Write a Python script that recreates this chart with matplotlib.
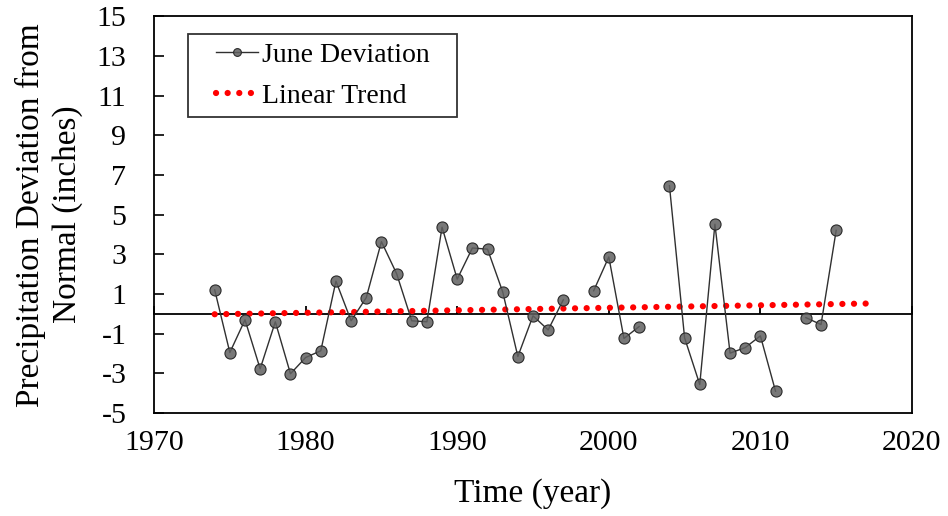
import numpy as np
import matplotlib.pyplot as plt
from matplotlib.legend_handler import HandlerLine2D

# June precipitation deviation (inches); NaN = missing year
years = [1974, 1975, 1976, 1977, 1978, 1979, 1980, 1981, 1982, 1983,
         1984, 1985, 1986, 1987, 1988, 1989, 1990, 1991, 1992, 1993,
         1994, 1995, 1996, 1997, 1998, 1999, 2000, 2001, 2002, 2003,
         2004, 2005, 2006, 2007, 2008, 2009, 2010, 2011, 2012, 2013,
         2014, 2015]
deviation = [1.21, -1.95, -0.30, -2.77, -0.40, -3.02, -2.20, -1.86, 1.65, -0.35,
             0.82, 3.64, 2.03, -0.35, -0.40, 4.37, 1.75, 3.32, 3.26, 1.11,
             -2.15, -0.10, -0.81, 0.71, np.nan, 1.16, 2.87, -1.24, -0.64, np.nan,
             6.46, -1.21, -3.56, 4.52, -1.98, -1.70, -1.11, -3.90, np.nan, -0.19,
             -0.54, 4.21]

# linear trend end points
trend_years = [1974, 2017]
trend_values = [-0.02, 0.52]

x_ticks = [1970, 1980, 1990, 2000, 2010, 2020]
y_ticks = [-5, -3, -1, 1, 3, 5, 7, 9, 11, 13, 15]

plt.rcParams['font.family'] = ['Liberation Serif', 'DejaVu Serif']
plt.rcParams['axes.unicode_minus'] = False

fig = plt.figure(figsize=(9.48, 5.16), dpi=100)
ax = fig.add_axes([0.1625, 0.1995, 0.7995, 0.769])

ax.plot(years, deviation, color='#303030', linewidth=1.0,
        marker='o', markersize=8, markerfacecolor=(0.38, 0.38, 0.38, 0.85),
        markeredgecolor='#2a2a2a', markeredgewidth=0.8, label='June Deviation', zorder=3)
ax.plot(trend_years, trend_values, color='#ff0000', linewidth=4.5,
        linestyle=(0, (0.01, 1.85)), dash_capstyle='round', label='Linear Trend', zorder=2)

ax.set_xlim(1970, 2020)
ax.set_ylim(-5, 15)
ax.set_xticks(x_ticks)
ax.set_yticks(y_ticks)
ax.tick_params(axis='x', length=0, labelsize=21.5, pad=12)
ax.tick_params(axis='y', direction='in', length=7, width=1.2, labelsize=21.5, pad=20)
for s in ax.spines.values():
    s.set_linewidth(1.3)

# horizontal axis crossing at zero, ticks pointing up
zero_axis = ax.secondary_xaxis(0.25)
zero_axis.set_xticks(x_ticks)
zero_axis.tick_params(direction='in', length=6, width=1.3, labelbottom=False)
zero_axis.spines['bottom'].set_linewidth(1.3)

ax.set_xlabel('Time (year)', fontsize=24, labelpad=16)
ax.set_ylabel('Precipitation Deviation from\nNormal (inches)', fontsize=24,
              labelpad=10, linespacing=1.25)

handler = HandlerLine2D(xpad=0.72)
leg = ax.legend(loc='upper left', bbox_to_anchor=(0.0449, 0.9547, 0.355, 0.0),
                mode='expand', fontsize=20, frameon=True, fancybox=False,
                edgecolor='black', handlelength=2.2, handletextpad=0.15,
                borderpad=0.3, labelspacing=0.55, borderaxespad=0, markerscale=0.7,
                handler_map={ln: handler for ln in ax.get_lines()})
leg.get_frame().set_linewidth(1.3)

fig.savefig('out.png', dpi=100)
